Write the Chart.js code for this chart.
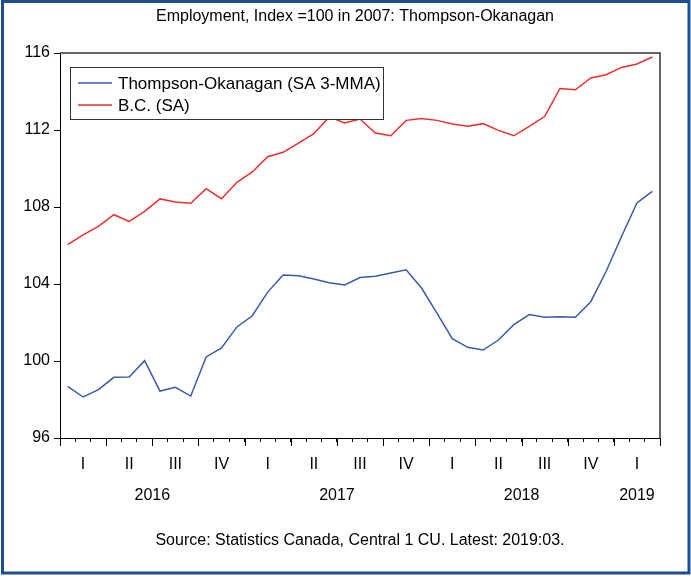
<!DOCTYPE html>
<html>
<head>
<meta charset="utf-8">
<script src="https://cdn.jsdelivr.net/npm/chart.js@4"></script>
<style>
  body { margin: 0; background: #fff; }
  #wrap { width: 691px; height: 579px; position: relative; }
</style>
</head>
<body>
<div id="wrap"><canvas id="js-employment"></canvas></div>
<script>
// monthly, 2016:01 .. 2019:03
var months = [
  '2016:01', '2016:02', '2016:03', '2016:04', '2016:05', '2016:06',
  '2016:07', '2016:08', '2016:09', '2016:10', '2016:11', '2016:12',
  '2017:01', '2017:02', '2017:03', '2017:04', '2017:05', '2017:06',
  '2017:07', '2017:08', '2017:09', '2017:10', '2017:11', '2017:12',
  '2018:01', '2018:02', '2018:03', '2018:04', '2018:05', '2018:06',
  '2018:07', '2018:08', '2018:09', '2018:10', '2018:11', '2018:12',
  '2019:01', '2019:02', '2019:03'
]
var quarterNames = ['I', 'II', 'III', 'IV']
var years = ['2016', '2017', '2018', '2019']

var thompsonOkanagan = [
  98.68, 98.13, 98.51, 99.15, 99.17, 100.02, 98.44, 98.63, 98.18, 100.21, 100.68, 101.77,
  102.35, 103.58, 104.47, 104.43, 104.26, 104.07, 103.95, 104.34, 104.40, 104.57, 104.74, 103.79,
  102.49, 101.16, 100.71, 100.57, 101.09, 101.89, 102.41, 102.27, 102.30, 102.27, 103.08, 104.66,
  106.47, 108.21, 108.81
]
var bc = [
  106.04, 106.55, 106.99, 107.60, 107.25, 107.77, 108.42, 108.26, 108.19, 108.95, 108.43, 109.28,
  109.82, 110.61, 110.84, 111.32, 111.81, 112.68, 112.36, 112.57, 111.84, 111.70, 112.50, 112.60,
  112.50, 112.31, 112.20, 112.33, 111.98, 111.70, 112.19, 112.70, 114.16, 114.09, 114.70, 114.87,
  115.25, 115.43, 115.79
]

var FONT = 'Liberation Sans, Arial, sans-serif'

function dataset(label, data, color) {
  return {
    label: label
  , data: data
  , borderColor: color
  , backgroundColor: color
  , borderWidth: 1.5
  , pointRadius: 0
  , tension: 0
  , fill: false
  }
}

// frame, title, year row, source, boxed legend
var decorations = {
  id: 'decorations'
, afterDatasetsDraw: function(chart) {
    var ctx = chart.ctx
    var area = chart.chartArea
    var x = chart.scales.x
    ctx.save()

    // legend box sits on top of the lines
    var lx = 70, ly = 67, lw = 313, lh = 52
    ctx.fillStyle = '#fff'
    ctx.fillRect(lx, ly, lw, lh)
    ctx.strokeStyle = '#333'
    ctx.lineWidth = 1
    ctx.strokeRect(lx + 0.5, ly + 0.5, lw, lh)
    ctx.font = '17px ' + FONT
    ctx.textBaseline = 'middle'
    ctx.textAlign = 'left'
    chart.data.datasets.forEach(function(ds, i) {
      var y = 83 + i * 22
      ctx.strokeStyle = ds.borderColor
      ctx.lineWidth = 1.5
      ctx.beginPath()
      ctx.moveTo(78, y)
      ctx.lineTo(112, y)
      ctx.stroke()
      ctx.fillStyle = '#000'
      ctx.fillText(ds.label, 118, y + 1)
    })

    // top and right edges of the plot box
    ctx.strokeStyle = '#333'
    ctx.lineWidth = 1.5
    ctx.beginPath()
    ctx.moveTo(area.left, area.top)
    ctx.lineTo(area.right, area.top)
    ctx.lineTo(area.right, area.bottom)
    ctx.stroke()

    // longer ticks at quarter boundaries
    ctx.strokeStyle = '#000'
    ctx.lineWidth = 1
    for (var k = 0; k <= months.length; k += 3) {
      var px = Math.round(x.getPixelForValue(k - 0.5)) + 0.5
      ctx.beginPath()
      ctx.moveTo(px, area.bottom)
      ctx.lineTo(px, area.bottom + 8)
      ctx.stroke()
    }

    // year row
    ctx.fillStyle = '#000'
    ctx.font = '16px ' + FONT
    ctx.textAlign = 'center'
    years.forEach(function(yr) {
      var idx = months.filter(function(m) { return m.slice(0, 4) === yr })
                      .map(function(m) { return months.indexOf(m) })
      var c = (x.getPixelForValue(idx[0]) + x.getPixelForValue(idx[idx.length - 1])) / 2
      var half = ctx.measureText(yr).width / 2
      c = Math.min(c, area.right - half)
      ctx.fillText(yr, c, 496)
    })

    ctx.fillText('Employment, Index =100 in 2007: Thompson-Okanagan', 355, 17)
    ctx.fillText('Source: Statistics Canada, Central 1 CU. Latest: 2019:03.', 360, 541)

    // outer blue frame
    ctx.strokeStyle = '#1f4e8c'
    ctx.lineWidth = 3
    ctx.strokeRect(2.5, 1.5, 686.5, 571.5)
    ctx.restore()
  }
}

new Chart(document.getElementById('js-employment').getContext('2d'), {
  type: 'line'
, data: {
    labels: months
  , datasets: [
      dataset('Thompson-Okanagan (SA 3-MMA)', thompsonOkanagan, 'rgb(60, 90, 172)')
    , dataset('B.C. (SA)', bc, 'rgb(238, 45, 45)')
    ]
  }
, plugins: [decorations]
, options: {
    responsive: true
  , maintainAspectRatio: false
  , animation: false
  , layout: { padding: { top: 53, right: 31, left: 0, bottom: 0 } }
  , plugins: {
      legend: { display: false }
    , tooltip: { enabled: false }
    }
  , scales: {
      x: {
        type: 'category'
      , offset: true
      , grid: { display: true, drawOnChartArea: false, offset: true, tickLength: 4, color: '#000' }
      , border: { display: true, color: '#000', width: 1 }
      , ticks: {
          autoSkip: false
        , maxRotation: 0
        , padding: 13
        , color: '#000'
        , font: { family: FONT, size: 16 }
        , callback: function(v, i) {
            return i % 3 === 1 ? quarterNames[Math.floor(i / 3) % 4] : ''
          }
        }
      , afterFit: function(scale) { scale.height = 141 }
      }
    , y: {
        min: 96
      , max: 116
      , grid: { display: true, drawOnChartArea: false, tickLength: 6, color: '#000' }
      , border: { display: true, color: '#000', width: 1 }
      , ticks: {
          stepSize: 4
        , padding: 4
        , color: '#000'
        , font: { family: FONT, size: 16 }
        }
      , afterFit: function(scale) { scale.width = 60 }
      }
    }
  }
})
</script>
</body>
</html>
